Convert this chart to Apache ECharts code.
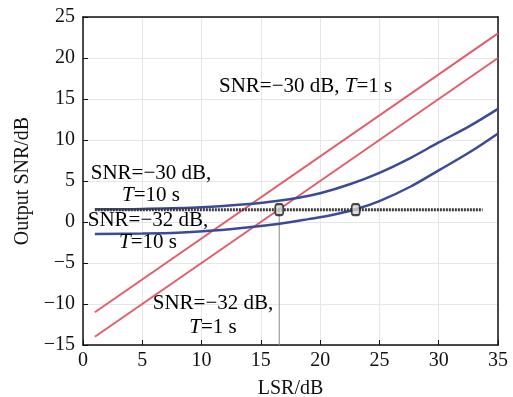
<!DOCTYPE html>
<html>
<head>
<meta charset="utf-8">
<script src="https://cdn.jsdelivr.net/npm/echarts@6/dist/echarts.min.js"></script>
<style>html,body{margin:0;padding:0;background:#fff;}#c{width:513px;height:397px;}</style>
</head>
<body>
<div id="c"></div>
<script>
// Data
var redX = [1, 35];
var red30T1 = [-11, 23];      // SNR=-30 dB, T=1 s
var red32T1 = [-14, 20];      // SNR=-32 dB, T=1 s
var blueX30 = [1, 5, 10, 14, 16.5, 18.3, 20, 22.5, 25, 27.6, 30, 32.6, 35];
var blue30T10 = [1.55, 1.6, 1.8, 2.2, 2.6, 3.0, 3.5, 4.6, 6.0, 7.8, 9.7, 11.7, 13.8];
var blueX32 = [1, 5, 8, 11, 14, 16.6, 19, 21, 23, 25, 27.6, 30, 32.6, 35];
var blue32T10 = [-1.45, -1.4, -1.3, -1.05, -0.65, -0.2, 0.35, 0.85, 1.55, 2.55, 4.3, 6.3, 8.5, 10.8];
var thresholdX = [1, 33.7];
var thresholdY = 1.5;
var markX = [16.55, 23];
var dropX = 16.55;
var yMinVal = -15;

function pairs(xs, ys) { return xs.map(function (x, i) { return [x, ys[i]]; }); }

var FONT = '"Liberation Serif", "Times New Roman", serif';
var RED = '#e35d6a';
var BLUE = '#3b4b98';
var AF = 21;

var chart = echarts.init(document.getElementById('c'), null, {renderer: 'canvas'});
function label(x, y, txt, lh, align) {
  var r = {
    a: {fontFamily: FONT, fontSize: AF, color: '#111', lineHeight: lh},
    i: {fontFamily: FONT, fontSize: AF, fontStyle: 'italic', color: '#111', lineHeight: lh}
  };
  return {type: 'text', x: x, y: y, z: 100, style: {text: txt, rich: r, align: align || 'center', verticalAlign: 'top', fontFamily: FONT, fontSize: AF, lineHeight: lh}};
}

var axisCommon = {
  type: 'value',
  axisLine: {show: true, onZero: false, lineStyle: {color: '#111', width: 1.5}},
  axisTick: {show: true, inside: true, length: 5, lineStyle: {color: '#111'}},
  splitLine: {show: true, lineStyle: {color: '#e6e6e6', width: 1}}
};

chart.setOption({
  animation: false,
  backgroundColor: '#fff',
  grid: {left: 83, right: 15, top: 17, bottom: 52, outerBoundsMode: 'none', containLabel: false},
  xAxis: [
    Object.assign({}, axisCommon, {
      min: 0, max: 35, interval: 5, position: 'bottom',
      name: 'LSR/dB', nameLocation: 'middle', nameGap: 34,
      nameTextStyle: {fontFamily: FONT, fontSize: 20, color: '#111'},
      axisLabel: {fontFamily: FONT, fontSize: 20, color: '#111', margin: 6}
    }),
    Object.assign({}, axisCommon, {
      min: 0, max: 35, interval: 5, position: 'top',
      axisTick: {show: false}, axisLabel: {show: false}, splitLine: {show: false}
    })
  ],
  yAxis: [
    Object.assign({}, axisCommon, {
      min: -15, max: 25, interval: 5, position: 'left',
      name: 'Output SNR/dB', nameLocation: 'middle', nameGap: 46,
      nameTextStyle: {fontFamily: FONT, fontSize: 20, color: '#111'},
      axisLabel: {fontFamily: FONT, fontSize: 20, color: '#111', margin: 8,
        formatter: function (v) { return String(v).replace('-', '\u2212'); }}
    }),
    Object.assign({}, axisCommon, {
      min: -15, max: 25, interval: 5, position: 'right',
      axisTick: {show: false}, axisLabel: {show: false}, splitLine: {show: false}
    })
  ],
  series: [
    {type: 'line', data: [[dropX, thresholdY], [dropX, yMinVal]], symbol: 'none', lineStyle: {color: '#8a8a8a', width: 1}, z: 2},
    {type: 'line', data: pairs(redX, red30T1), symbol: 'none', lineStyle: {color: RED, width: 2}, z: 3},
    {type: 'line', data: pairs(redX, red32T1), symbol: 'none', lineStyle: {color: RED, width: 2}, z: 3},
    {type: 'line', data: pairs(blueX30, blue30T10), smooth: 0.35, symbol: 'none', lineStyle: {color: BLUE, width: 2.5}, z: 4},
    {type: 'line', data: pairs(blueX32, blue32T10), smooth: 0.35, symbol: 'none', lineStyle: {color: BLUE, width: 2.5}, z: 4},
    {type: 'line', data: [[thresholdX[0], thresholdY], [thresholdX[1], thresholdY]], symbol: 'none', lineStyle: {color: '#3a3a3a', width: 3, type: [2, 1]}, z: 5},
    {type: 'scatter', data: markX.map(function (x) { return [x, thresholdY]; }), symbol: 'roundRect', symbolSize: [8, 11],
      itemStyle: {color: '#d8d8d8', borderColor: '#1a1a1a', borderWidth: 2}, z: 6}
  ],
  graphic: [
    label(219, 75, '{a|SNR=\u221230 dB, }{i|T}{a|=1 s}', 22, 'left'),
    label(151, 162, '{a|SNR=\u221230 dB,}\n{i|T}{a|=10 s}', 22),
    label(148, 209, '{a|SNR=\u221232 dB,}\n{i|T}{a|=10 s}', 22),
    label(213, 291, '{a|SNR=\u221232 dB,}\n{i|T}{a|=1 s}', 24)
  ]
});
</script>
</body>
</html>
